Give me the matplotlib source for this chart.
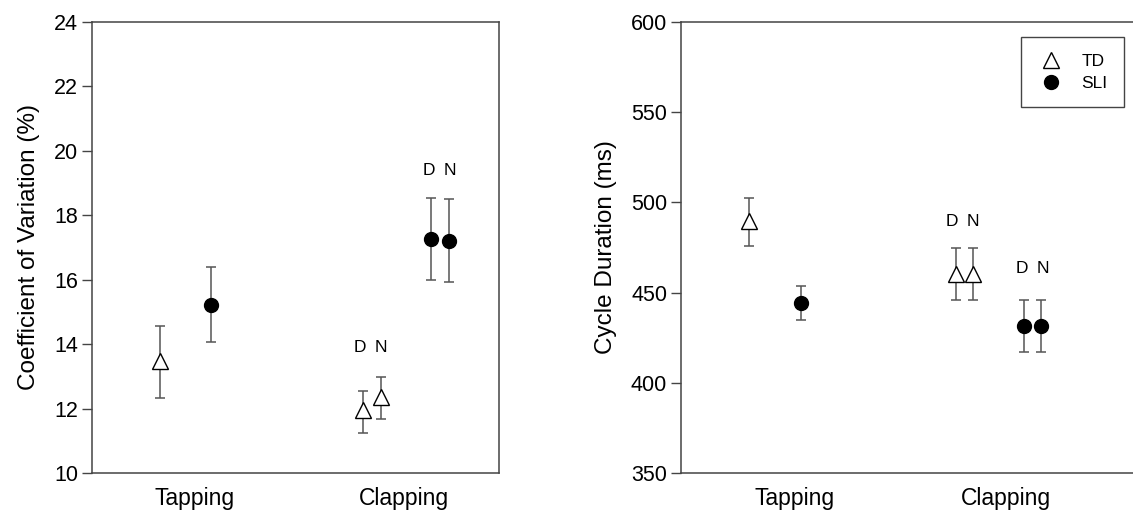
import matplotlib
matplotlib.use("Agg")
import matplotlib.pyplot as plt

plt.rcParams['font.family'] = ['Liberation Sans', 'DejaVu Sans']

# ---- data ----
conditions = ["Tapping", "Clapping"]
groups = ["TD", "SLI"]

# coefficient of variation (%), left panel
cv_x_td = [0.67, 2.66, 2.84]
cv_td = [13.48, 11.96, 12.37]
cv_td_lo = [12.33, 11.25, 11.68]
cv_td_hi = [14.55, 12.55, 12.98]
cv_x_sli = [1.17, 3.33, 3.51]
cv_sli = [15.23, 17.27, 17.20]
cv_sli_lo = [14.07, 16.00, 15.92]
cv_sli_hi = [16.38, 18.53, 18.50]
cv_tick_pos = [1.01, 3.07]
cv_dn_x = [[2.63, 2.84], [3.31, 3.52]]
cv_dn_y = [13.9, 19.4]

# cycle duration (ms), right panel
cd_x_td = [0.67, 2.70, 2.87]
cd_td = [489.9, 460.5, 460.5]
cd_td_lo = [476.0, 445.7, 445.7]
cd_td_hi = [502.3, 474.5, 474.5]
cd_x_sli = [1.18, 3.37, 3.54]
cd_sli = [444.2, 431.5, 431.5]
cd_sli_lo = [434.8, 416.9, 416.9]
cd_sli_hi = [453.8, 446.1, 446.1]
cd_tick_pos = [1.12, 3.19]
cd_dn_x = [[2.66, 2.87], [3.35, 3.56]]
cd_dn_y = [489.3, 463.2]

dn_labels = ["D", "N"]

spine_col = "#444444"
err_col = "#555555"

fig = plt.figure(figsize=(11.33, 5.13), dpi=100)
ax1 = fig.add_axes([92/1133, 1-473/513, 407/1133, 451/513])
ax2 = fig.add_axes([681/1133, 1-473/513, 460/1133, 451/513])


def draw(ax, xt, yt, lot, hit, xs, ys, los, his):
    et = [[y - l for y, l in zip(yt, lot)], [h - y for y, h in zip(yt, hit)]]
    es = [[y - l for y, l in zip(ys, los)], [h - y for y, h in zip(ys, his)]]
    ax.errorbar(xt, yt, yerr=et, fmt='none', ecolor=err_col, elinewidth=1.1,
                capsize=3.8, capthick=1.1, zorder=2)
    ax.errorbar(xs, ys, yerr=es, fmt='none', ecolor=err_col, elinewidth=1.1,
                capsize=3.8, capthick=1.1, zorder=2)
    h1, = ax.plot(xt, yt, '^', ms=11, mfc='white', mec='black', mew=1.0,
                  ls='none', zorder=3, label=groups[0])
    h2, = ax.plot(xs, ys, 'o', ms=10, mfc='black', mec='black',
                  ls='none', zorder=3, label=groups[1])
    return h1, h2


draw(ax1, cv_x_td, cv_td, cv_td_lo, cv_td_hi, cv_x_sli, cv_sli, cv_sli_lo, cv_sli_hi)
h1, h2 = draw(ax2, cd_x_td, cd_td, cd_td_lo, cd_td_hi, cd_x_sli, cd_sli, cd_sli_lo, cd_sli_hi)

for ax, dx, dy in [(ax1, cv_dn_x, cv_dn_y), (ax2, cd_dn_x, cd_dn_y)]:
    for xs, y in zip(dx, dy):
        for x, t in zip(xs, dn_labels):
            ax.text(x, y, t, ha='center', va='center', fontsize=12.5)

ax1.set_xlim(0, 4)
ax1.set_ylim(10, 24)
ax1.set_yticks(range(10, 25, 2))
ax1.set_xticks(cv_tick_pos)
ax1.set_ylabel("Coefficient of Variation (%)", fontsize=17.5, labelpad=10)

ax2.set_xlim(0, 460/101.75)
ax2.set_ylim(350, 600)
ax2.set_yticks(range(350, 601, 50))
ax2.set_xticks(cd_tick_pos)
ax2.set_ylabel("Cycle Duration (ms)", fontsize=17.5, labelpad=10)

for ax in (ax1, ax2):
    ax.set_xticklabels(conditions, fontsize=16.5)
    ax.tick_params(axis='x', length=0, pad=10)
    ax.tick_params(axis='y', direction='out', length=7, width=1, color=spine_col,
                   labelsize=15.5, pad=3)
    for s in ax.spines.values():
        s.set_color(spine_col)
        s.set_linewidth(1.1)

leg = fig.legend(handles=[h1, h2], loc='upper right',
                 bbox_to_anchor=(1124/1133, 1-37/513), bbox_transform=fig.transFigure,
                 borderaxespad=0, fontsize=12.5, fancybox=False, edgecolor=spine_col,
                 framealpha=1, borderpad=0.95, labelspacing=0.4, handletextpad=1.0,
                 handlelength=1.5)
leg.get_frame().set_linewidth(1.0)

fig.savefig("out.png", dpi=100)
